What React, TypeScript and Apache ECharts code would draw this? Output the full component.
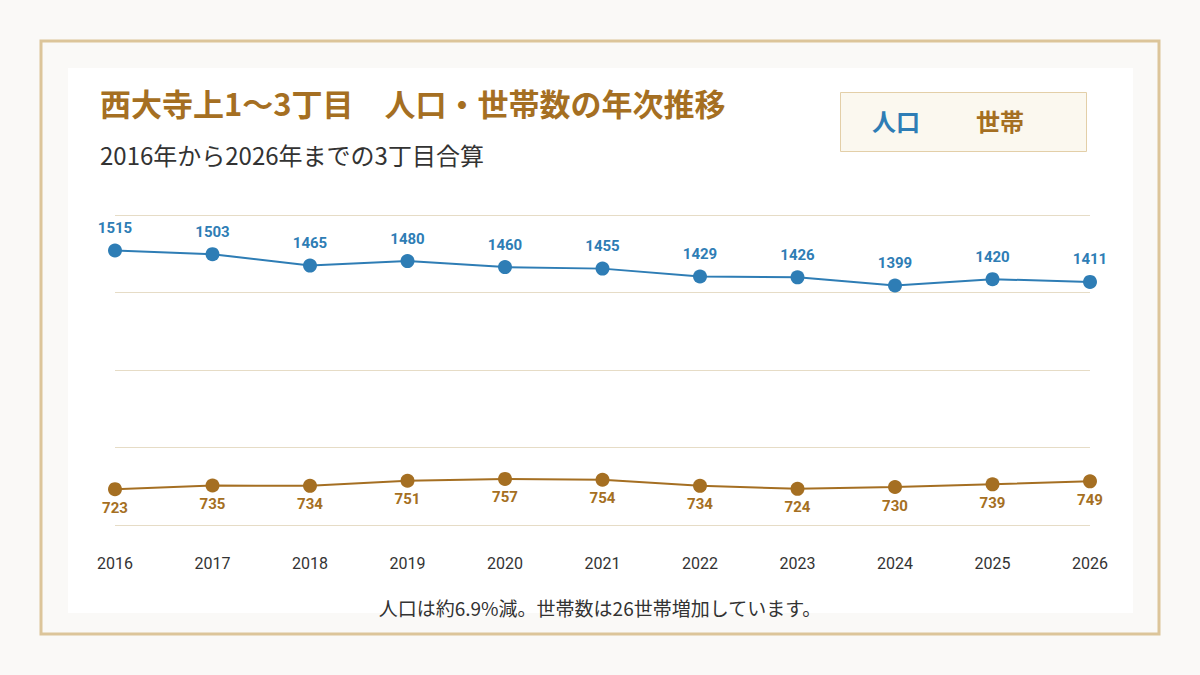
import React, { useEffect, useRef } from 'react'
import * as echarts from 'echarts'

const years = ['2016', '2017', '2018', '2019', '2020', '2021', '2022', '2023', '2024', '2025', '2026']
const population = [1515, 1503, 1465, 1480, 1460, 1455, 1429, 1426, 1399, 1420, 1411]
const households = [723, 735, 734, 751, 757, 754, 734, 724, 730, 739, 749]

const BLUE = '#2e7db5'
const BROWN = '#a56f22'
const FONT = '"Noto Sans CJK JP", "Noto Sans", sans-serif'
const NUM_FONT = 'Roboto, "Noto Sans", sans-serif'

export default function App() {
  const ref = useRef<HTMLDivElement>(null)

  useEffect(() => {
    if (!ref.current) return
    const chart = echarts.init(ref.current, undefined, { renderer: 'svg' })
    chart.setOption({
      animation: false,
      backgroundColor: '#faf9f7',
      textStyle: { fontFamily: FONT },
      graphic: [
        { type: 'rect', shape: { x: 41, y: 41, width: 1118, height: 593 }, style: { fill: 'none', stroke: '#dcc59a', lineWidth: 3 } },
        { type: 'rect', shape: { x: 68, y: 68, width: 1065, height: 545 }, style: { fill: '#ffffff' }, z: -1 },
        { type: 'text', x: 100, y: 87, style: { text: '西大寺上1～3丁目　人口・世帯数の年次推移', fill: BROWN, font: `bold 31px ${FONT}` } },
        { type: 'text', x: 100, y: 142, style: { text: '2016年から2026年までの3丁目合算', fill: '#333', font: `24px ${FONT}` } },
        { type: 'rect', shape: { x: 840.5, y: 92.5, width: 246, height: 59 }, style: { fill: '#fbf8ef', stroke: '#e3cfa8', lineWidth: 1 } },
        { type: 'text', x: 872, y: 108, style: { text: '人口', fill: BLUE, font: `bold 24px ${FONT}` } },
        { type: 'text', x: 976, y: 108, style: { text: '世帯', fill: BROWN, font: `bold 24px ${FONT}` } },
        { type: 'text', x: 600, y: 598, style: { text: '人口は約6.9%減。世帯数は26世帯増加しています。', fill: '#333', font: `19px ${FONT}`, textAlign: 'center' } }
      ],
      grid: { left: 115, right: 110, top: 215, bottom: 150 },
      xAxis: {
        type: 'category',
        data: years,
        boundaryGap: false,
        axisLine: { show: false },
        axisTick: { show: false },
        axisLabel: { color: '#333', fontSize: 16, margin: 30, fontFamily: NUM_FONT }
      },
      yAxis: [
        { type: 'value', min: 604, max: 1633, show: false, splitLine: { show: false } },
        {
          type: 'value', min: 0, max: 4, interval: 1, position: 'left',
          axisLine: { show: false }, axisTick: { show: false }, axisLabel: { show: false },
          splitLine: { lineStyle: { color: '#e6dcc6', width: 1 } }
        }
      ],
      series: [
        {
          name: '人口', type: 'line', data: population, yAxisIndex: 0,
          symbol: 'circle', symbolSize: 14,
          lineStyle: { color: BLUE, width: 2 }, itemStyle: { color: BLUE },
          label: { show: true, position: 'top', distance: 8, color: BLUE, fontWeight: 'bold', fontSize: 15, fontFamily: NUM_FONT }
        },
        {
          name: '世帯', type: 'line', data: households, yAxisIndex: 0,
          symbol: 'circle', symbolSize: 14,
          lineStyle: { color: BROWN, width: 2 }, itemStyle: { color: BROWN },
          label: { show: true, position: 'bottom', distance: 4, color: BROWN, fontWeight: 'bold', fontSize: 15, fontFamily: NUM_FONT }
        }
      ]
    })
    return () => chart.dispose()
  }, [])

  return <div ref={ref} style={{ width: 1200, height: 675, position: 'fixed', left: 0, top: 0 }} />
}
